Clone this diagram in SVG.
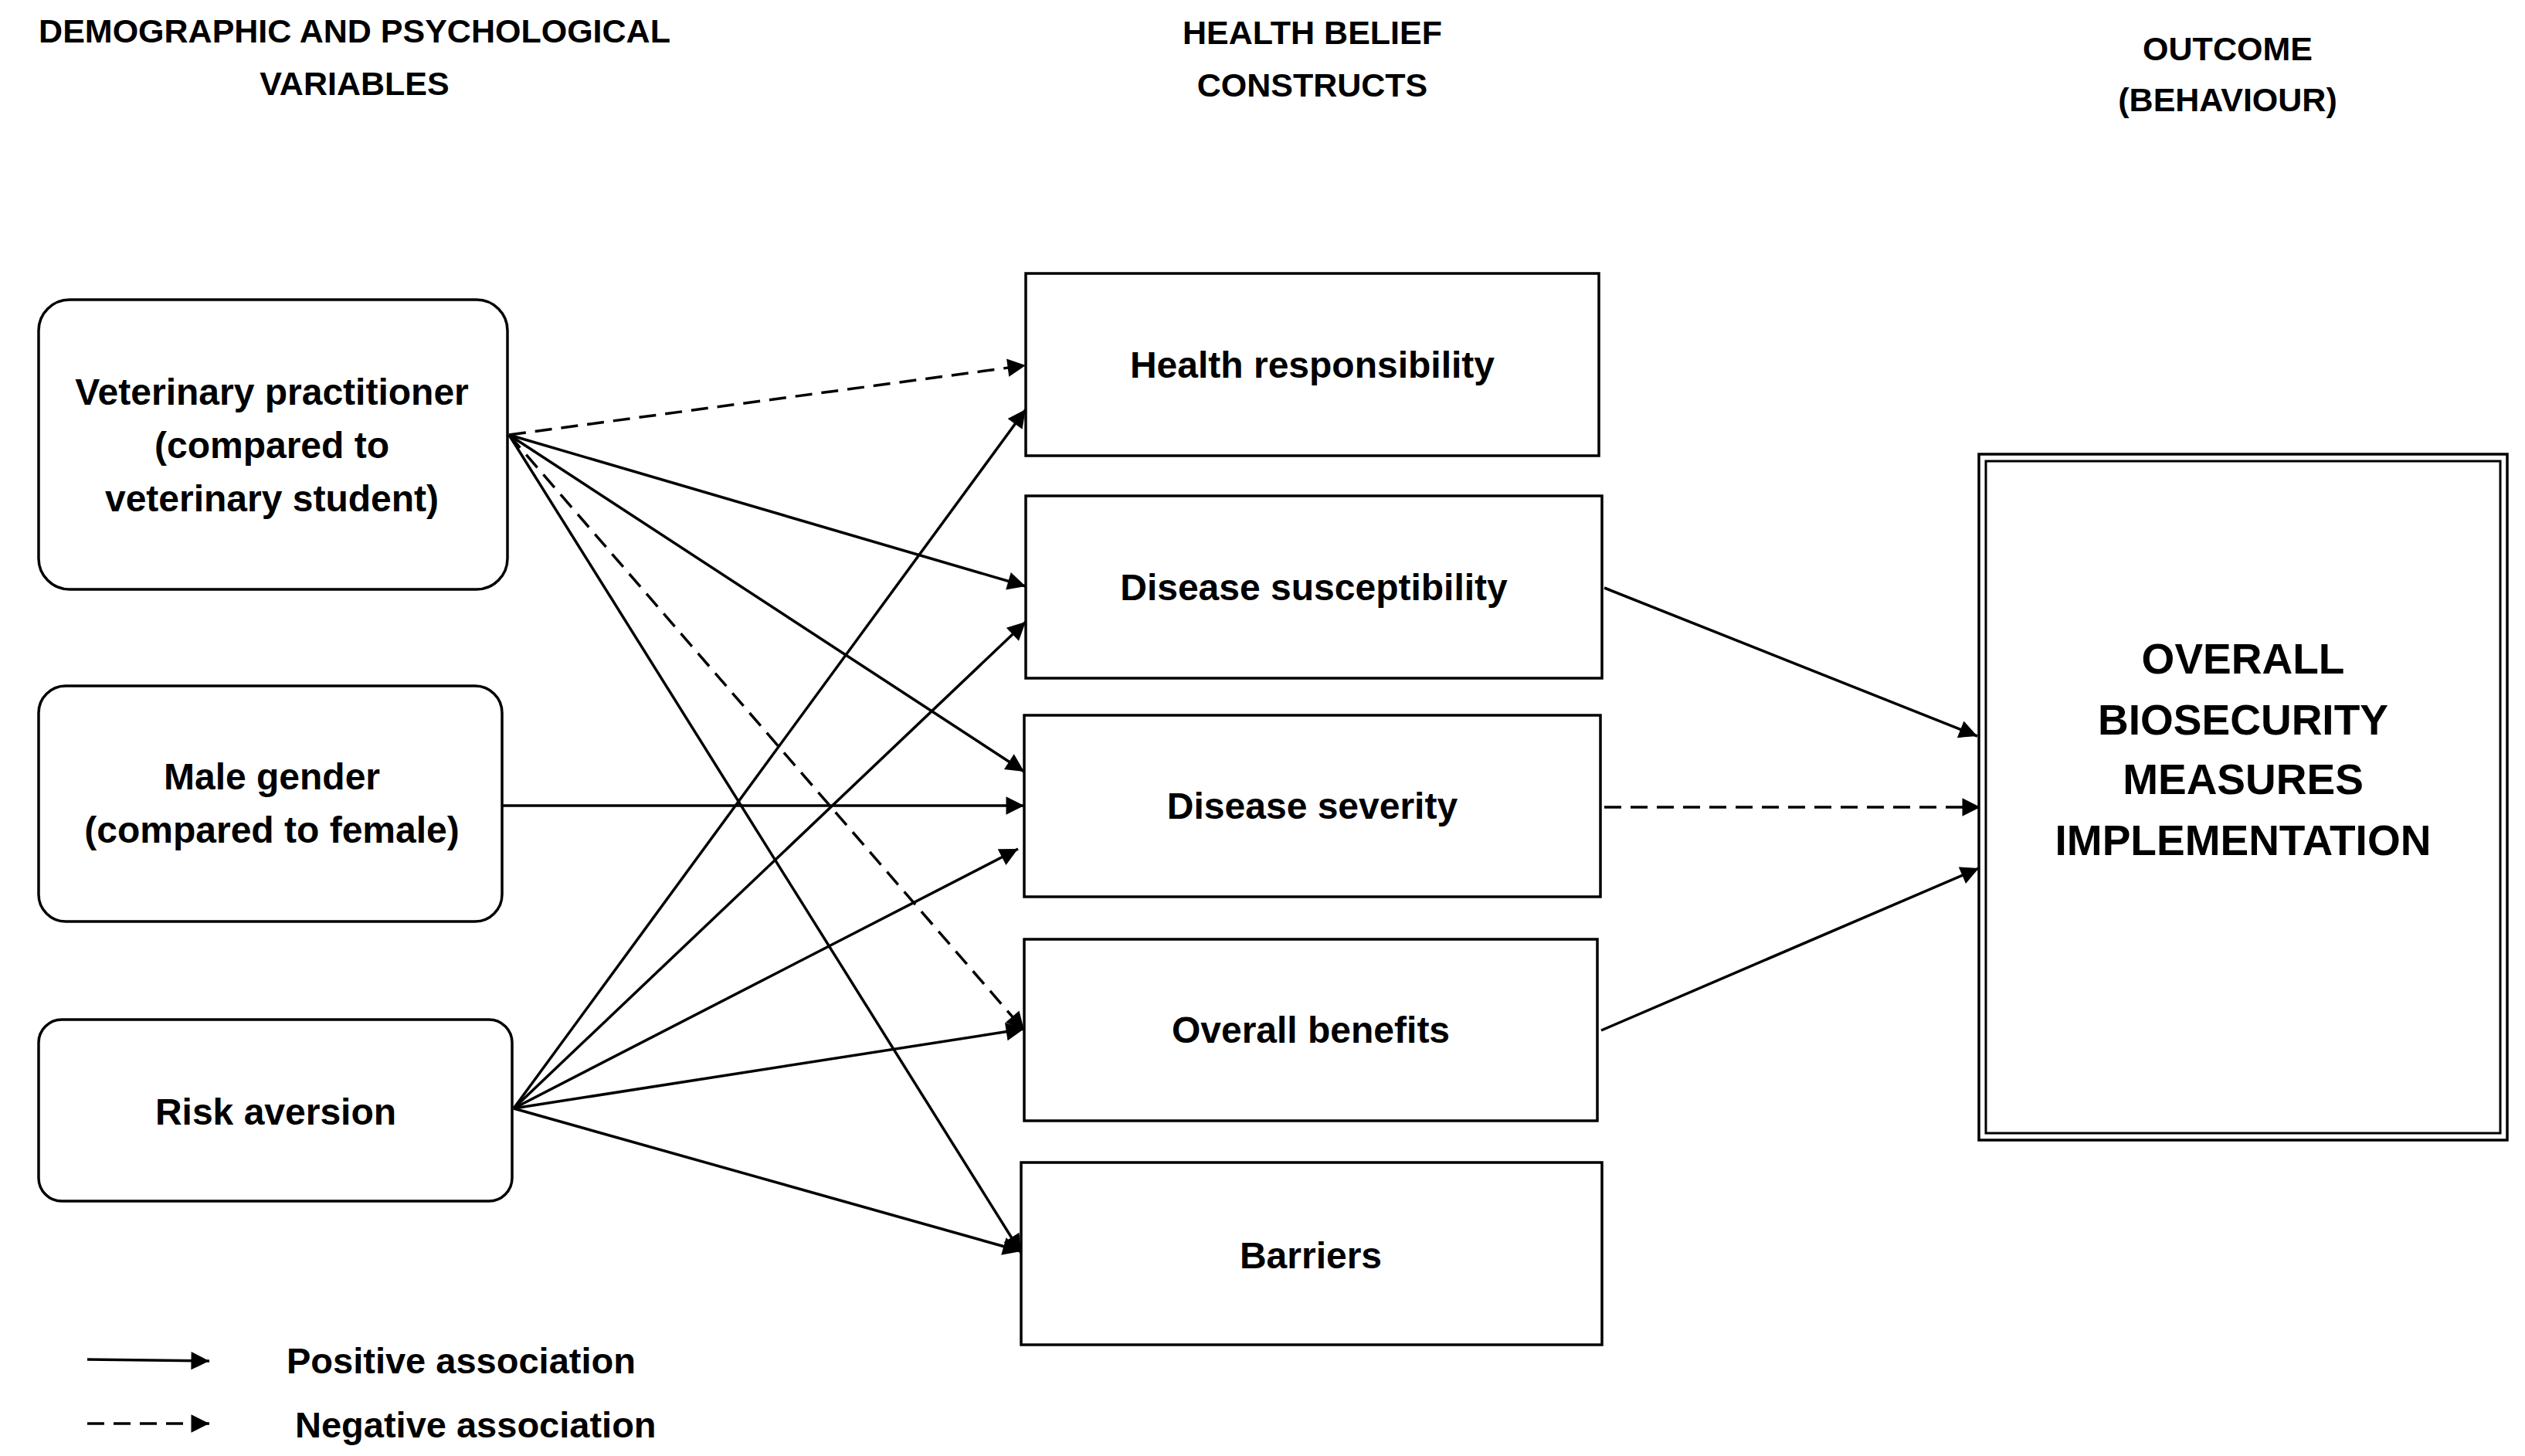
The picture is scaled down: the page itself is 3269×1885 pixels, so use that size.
<svg xmlns="http://www.w3.org/2000/svg" width="3269" height="1885" viewBox="0 0 3269 1885">
<style>
.h{font-family:"Liberation Sans",Arial,sans-serif;font-weight:bold;font-size:43px;text-anchor:middle;fill:#000}
.t{font-family:"Liberation Sans",Arial,sans-serif;font-weight:bold;font-size:48px;text-anchor:middle;fill:#000}
.o{font-family:"Liberation Sans",Arial,sans-serif;font-weight:bold;font-size:55px;text-anchor:middle;fill:#000}
.l{font-family:"Liberation Sans",Arial,sans-serif;font-weight:bold;font-size:47px;fill:#000}
.b{fill:#fff;stroke:#000;stroke-width:3.5}
.c{stroke:#000;stroke-width:3.5;fill:none;marker-end:url(#a)}
.d{stroke-dasharray:22 12}
</style>
<defs><marker id="a" viewBox="0 0 10 10" refX="10" refY="5" markerWidth="9" markerHeight="9" markerUnits="userSpaceOnUse" orient="auto" style="overflow:visible"><path d="M0,0 L10,5 L0,10 z" fill="#000" transform="scale(2.6) translate(-6.2,-3.1)"/></marker></defs>
<rect width="3269" height="1885" fill="#fff"/>
<text class="h" x="459" y="55">DEMOGRAPHIC AND PSYCHOLOGICAL</text>
<text class="h" x="459" y="123">VARIABLES</text>
<text class="h" x="1699" y="57">HEALTH BELIEF</text>
<text class="h" x="1699" y="125">CONSTRUCTS</text>
<text class="h" x="2884" y="78">OUTCOME</text>
<text class="h" x="2884" y="144">(BEHAVIOUR)</text>
<g id="connectors">
<line class="c d" x1="659" y1="563" x2="1328" y2="473"/>
<line class="c" x1="659" y1="563" x2="1328" y2="759"/>
<line class="c" x1="659" y1="563" x2="1326" y2="999"/>
<line class="c d" x1="659" y1="563" x2="1326" y2="1334"/>
<line class="c" x1="659" y1="563" x2="1322" y2="1622"/>
<line class="c" x1="650" y1="1043" x2="1326" y2="1043"/>
<line class="c" x1="665" y1="1435" x2="1328" y2="530"/>
<line class="c" x1="665" y1="1435" x2="1328" y2="805"/>
<line class="c" x1="665" y1="1435" x2="1318" y2="1099"/>
<line class="c" x1="665" y1="1435" x2="1326" y2="1332"/>
<line class="c" x1="665" y1="1435" x2="1322" y2="1620"/>
<line class="c" x1="2077" y1="761" x2="2560" y2="953"/>
<line class="c d" x1="2077" y1="1045" x2="2564" y2="1045"/>
<line class="c" x1="2073" y1="1334" x2="2562" y2="1124"/>
<line class="c" x1="113" y1="1760" x2="271" y2="1762"/>
<line class="c d" x1="113" y1="1843" x2="271" y2="1843"/>
</g>
<g id="vet"><rect class="b" x="50" y="388" width="607" height="375" rx="40"/>
<text class="t" x="352" y="524">Veterinary practitioner</text><text class="t" x="352" y="593">(compared to</text><text class="t" x="352" y="662">veterinary student)</text></g>
<g id="male"><rect class="b" x="50" y="888" width="600" height="305" rx="35"/>
<text class="t" x="352" y="1022">Male gender</text><text class="t" x="352" y="1091">(compared to female)</text></g>
<g id="risk"><rect class="b" x="50" y="1320" width="613" height="235" rx="30"/>
<text class="t" x="357" y="1456">Risk aversion</text></g>
<g id="hr"><rect class="b" x="1328" y="354" width="742" height="236"/><text class="t" x="1699" y="489">Health responsibility</text></g>
<g id="susc"><rect class="b" x="1328" y="642" width="746" height="236"/><text class="t" x="1701" y="777">Disease susceptibility</text></g>
<g id="sev"><rect class="b" x="1326" y="926" width="746" height="235"/><text class="t" x="1699" y="1060">Disease severity</text></g>
<g id="ben"><rect class="b" x="1326" y="1216" width="742" height="235"/><text class="t" x="1697" y="1350">Overall benefits</text></g>
<g id="bar"><rect class="b" x="1322" y="1505" width="752" height="236"/><text class="t" x="1697" y="1642">Barriers</text></g>
<g id="outcome"><rect class="b" x="2562" y="588" width="684" height="888" stroke-width="3"/><rect x="2571" y="597" width="666" height="870" fill="none" stroke="#000" stroke-width="3"/>
<text class="o" x="2904" y="872">OVERALL</text><text class="o" x="2904" y="951">BIOSECURITY</text><text class="o" x="2904" y="1028">MEASURES</text><text class="o" x="2904" y="1107">IMPLEMENTATION</text></g>
<text class="l" x="371" y="1778">Positive association</text>
<text class="l" x="382" y="1861">Negative association</text>
</svg>
